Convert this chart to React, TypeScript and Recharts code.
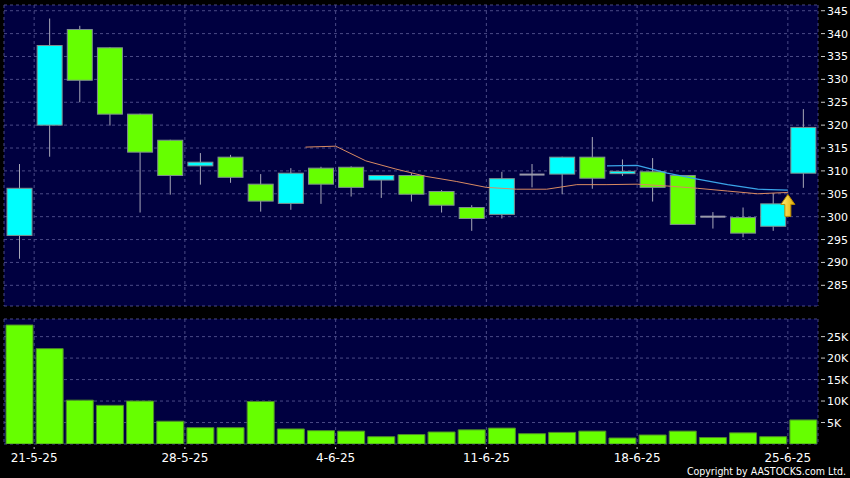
import React from 'react';
import {
  ComposedChart, Bar, Line, XAxis, YAxis, CartesianGrid, ReferenceDot,
} from 'recharts';

// ---------- data ----------
const dates = [
  '20-5-25', '21-5-25', '22-5-25', '23-5-25', '26-5-25', '27-5-25', '28-5-25', '29-5-25', '30-5-25',
  '2-6-25', '3-6-25', '4-6-25', '5-6-25', '6-6-25', '9-6-25', '10-6-25', '11-6-25', '12-6-25', '13-6-25',
  '16-6-25', '17-6-25', '18-6-25', '19-6-25', '20-6-25', '23-6-25', '24-6-25', '25-6-25',
];

const opens = [295.9, 320.0, 340.9, 336.9, 322.4, 316.7, 311.1, 313.0, 307.1, 302.9, 310.6, 310.8, 308.0, 309.0, 305.5, 302.0, 300.5, 309.2, 309.3, 313.0, 309.4, 309.8, 309.0, 300.0, 299.8, 297.9, 309.5];
const highs = [311.5, 343.3, 341.7, 337.0, 322.5, 316.8, 313.9, 313.5, 309.3, 310.6, 310.9, 311.0, 309.1, 309.5, 305.8, 302.5, 309.8, 311.5, 313.1, 317.4, 312.5, 312.8, 309.1, 301.0, 302.0, 305.1, 323.5];
const lows = [290.8, 313.1, 325.0, 319.9, 300.9, 304.8, 307.0, 307.4, 301.1, 301.5, 302.8, 304.4, 304.1, 303.3, 300.9, 296.9, 299.6, 306.4, 304.9, 306.1, 308.9, 303.3, 298.2, 297.4, 295.5, 296.9, 306.3];
const closes = [306.2, 337.4, 329.8, 322.4, 314.1, 309.0, 311.9, 308.6, 303.4, 309.5, 307.1, 306.4, 309.0, 304.9, 302.5, 299.6, 308.3, 309.2, 313.0, 308.4, 309.9, 306.4, 298.3, 300.0, 296.4, 302.8, 319.5];
const volumes = [27700, 22200, 10200, 9000, 10000, 5300, 3800, 3800, 9900, 3500, 3100, 3000, 1700, 2200, 2800, 3300, 3700, 2400, 2700, 3000, 1400, 2100, 3000, 1500, 2600, 1700, 5600];

const maSlowStart = 10;
const maSlow = [315.2, 315.4, 312.2, 310.4, 308.8, 307.7, 306.4, 306.0, 306.0, 307.0, 307.0, 307.1, 306.7, 306.2, 305.6, 305.0, 305.3];
const maFastStart = 20;
const maFast = [311.1, 311.2, 309.5, 308.2, 307.0, 306.0, 305.8];

const tickDates = ['21-5-25', '28-5-25', '4-6-25', '11-6-25', '18-6-25', '25-6-25'];
const priceTicks = [285, 290, 295, 300, 305, 310, 315, 320, 325, 330, 335, 340, 345];
const volTicks = [5000, 10000, 15000, 20000, 25000];
const signalIndex = 26;
const signalPrice = 305.3;

// ---------- derived tables ----------
const candleData = opens.map((o, i) => ({
  x: i,
  open: o,
  high: highs[i],
  low: lows[i],
  close: closes[i],
  range: [lows[i], highs[i]],
  vol: volumes[i],
}));
const slowData = maSlow.map((v, k) => ({ x: maSlowStart + k - 0.5, v }));
const fastData = maFast.map((v, k) => ({ x: maFastStart + k - 0.5, v }));
const xTicks = tickDates.map((d) => dates.indexOf(d) - 0.5);
const tickLabel = (v: number) => dates[Math.round(v + 0.5)] ?? '';

const NAVY = '#000040';
const GRID = '#4a4a86';
const CYAN = '#00ffff';
const GREEN = '#66ff00';
const FONT = '"DejaVu Sans", Verdana, sans-serif';
const X_DOMAIN: [number, number] = [-0.5, 26.5];

const Candle = (props: any) => {
  const { x, y, width, height, payload } = props;
  if (!payload) return null;
  const { open, close, high, low } = payload;
  const top = Math.min(y, y + height);
  const h = Math.abs(height);
  const ppu = h / (high - low);
  const yOf = (v: number) => top + (high - v) * ppu;
  const cx = x + width / 2;
  const wick = <line x1={cx} x2={cx} y1={yOf(high)} y2={yOf(low)} stroke="#a8a8b8" strokeWidth={1} />;
  if (open === close) {
    return (
      <g>
        {wick}
        <line x1={x} x2={x + width} y1={yOf(open)} y2={yOf(open)} stroke="#9a9aaa" strokeWidth={2} />
      </g>
    );
  }
  const up = close > open;
  const bTop = yOf(Math.max(open, close));
  const bBot = yOf(Math.min(open, close));
  return (
    <g>
      {wick}
      <rect x={x} y={bTop} width={width} height={Math.max(bBot - bTop, 1.5)} fill={up ? CYAN : GREEN} stroke="#7f8f8f" strokeWidth={1} />
    </g>
  );
};

const RightTick = (props: any) => {
  const { x, y, payload, fmt } = props;
  return (
    <g>
      <line x1={x - 5} x2={x - 1} y1={y} y2={y} stroke="#c8c8c8" strokeWidth={1} />
      <text x={x + 1} y={y + 4} fill="#ffffff" fontSize={11} fontFamily={FONT}>
        {fmt(payload.value)}
      </text>
    </g>
  );
};

const BottomTick = (props: any) => {
  const { x, y, payload } = props;
  return (
    <g>
      <line x1={x} x2={x} y1={y - 5} y2={y - 3} stroke="#c8c8c8" strokeWidth={1} />
      <text x={x} y={y + 10} fill="#ffffff" fontSize={12} fontFamily={FONT} textAnchor="middle">
        {tickLabel(payload.value)}
      </text>
    </g>
  );
};

const Arrow = (props: any) => {
  const { cx, cy } = props;
  const t = cy + 2;
  return (
    <g>
      <defs>
        <linearGradient id="arrowGrad" x1="0" y1="0" x2="1" y2="0">
          <stop offset="0%" stopColor="#fff27a" />
          <stop offset="100%" stopColor="#e0a800" />
        </linearGradient>
      </defs>
      <path
        d={`M ${cx} ${t} L ${cx + 7} ${t + 10} L ${cx + 3} ${t + 10} L ${cx + 3} ${t + 22} L ${cx - 3} ${t + 22} L ${cx - 3} ${t + 10} L ${cx - 7} ${t + 10} Z`}
        fill="url(#arrowGrad)"
        stroke="#b88a00"
        strokeWidth={1}
      />
    </g>
  );
};

export default function App() {
  return (
    <div style={{ position: 'absolute', left: 0, top: 0, width: 850, height: 478, background: '#000', overflow: 'hidden' }}>
      <div style={{ position: 'absolute', left: 0, top: 0 }}>
        <ComposedChart width={850} height={310} data={candleData} margin={{ top: 5, right: 0, left: 4, bottom: 4 }}>
          <CartesianGrid stroke={GRID} strokeDasharray="3 3" fill={NAVY} fillOpacity={1} />
          <XAxis dataKey="x" type="number" domain={X_DOMAIN} ticks={xTicks} hide allowDataOverflow />
          <XAxis xAxisId="ma" dataKey="x" type="number" domain={X_DOMAIN} hide allowDataOverflow />
          <YAxis
            orientation="right"
            width={32}
            domain={[280.48, 346.25]}
            ticks={priceTicks}
            interval={0}
            allowDataOverflow
            axisLine={false}
            tickLine={false}
            tick={<RightTick fmt={(v: number) => String(v)} />}
          />
          <Bar dataKey="range" barSize={25} shape={(p: any) => <Candle {...p} />} isAnimationActive={false} />
          <Line xAxisId="ma" data={slowData} dataKey="v" stroke="#d88a62" strokeWidth={1} dot={false} isAnimationActive={false} />
          <Line xAxisId="ma" data={fastData} dataKey="v" stroke="#3aa4e8" strokeWidth={1.2} dot={false} isAnimationActive={false} />
          <ReferenceDot xAxisId="ma" x={signalIndex - 0.5} y={signalPrice} shape={(p: any) => <Arrow {...p} />} />
        </ComposedChart>
      </div>
      <div style={{ position: 'absolute', left: 0, top: 310 }}>
        <ComposedChart width={850} height={168} data={candleData} margin={{ top: 9, right: 0, left: 4, bottom: 14 }}>
          <CartesianGrid stroke={GRID} strokeDasharray="3 3" fill={NAVY} fillOpacity={1} />
          <XAxis
            dataKey="x"
            type="number"
            domain={X_DOMAIN}
            ticks={xTicks}
            interval={0}
            height={20}
            allowDataOverflow
            axisLine={false}
            tickLine={false}
            tick={<BottomTick />}
          />
          <YAxis
            orientation="right"
            width={32}
            domain={[0, 29100]}
            ticks={volTicks}
            interval={0}
            allowDataOverflow
            axisLine={false}
            tickLine={false}
            tick={<RightTick fmt={(v: number) => `${v / 1000}K`} />}
          />
          <Bar dataKey="vol" barSize={27} fill={GREEN} stroke="#4f8a2a" strokeWidth={1} isAnimationActive={false} />
        </ComposedChart>
      </div>
      <svg width={850} height={478} style={{ position: 'absolute', left: 0, top: 0, pointerEvents: 'none' }}>
        <text x={846} y={475} fill="#ffffff" fontSize={10.5} textAnchor="end" fontFamily='"DejaVu Sans Condensed", "DejaVu Sans", sans-serif' style={{ fontStretch: 'condensed' }}>
          Copyright by AASTOCKS.com Ltd.
        </text>
      </svg>
    </div>
  );
}
